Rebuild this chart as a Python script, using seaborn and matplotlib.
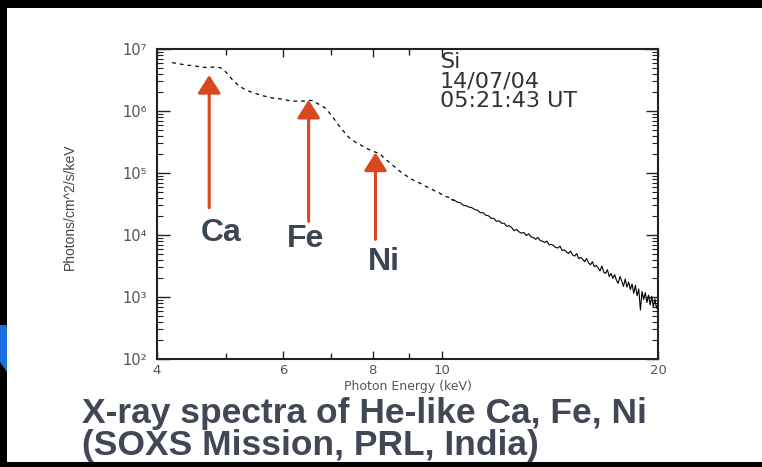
import matplotlib
matplotlib.use("Agg")
import matplotlib.pyplot as plt
from matplotlib import font_manager
from matplotlib.patches import Rectangle, Polygon
from matplotlib.ticker import FixedLocator, NullFormatter
import pandas as pd
import seaborn as sns

# Solar X-ray spectrum (SOXS Si detector), photon energy in keV
energy_kev = [
    4.2, 4.3, 4.4, 4.5, 4.6, 4.7, 4.8, 4.9, 5.0, 5.1,
    5.2, 5.3, 5.4, 5.5, 5.6, 5.7, 5.8, 5.9, 6.0, 6.1,
    6.2, 6.3, 6.4, 6.5, 6.6, 6.7, 6.8, 6.9, 7.0, 7.1,
    7.2, 7.3, 7.4, 7.5, 7.6, 7.7, 7.8, 7.9, 8.0, 8.1,
    8.2, 8.3, 8.4, 8.5, 8.6, 8.7, 8.8, 8.9, 9.0, 9.1,
    9.2, 9.3, 9.4, 9.5, 9.6, 9.7, 9.8, 9.9, 10.0, 10.1,
    10.2, 10.3, 10.4, 10.5, 10.6, 10.7, 10.8, 10.9, 11.0, 11.1,
    11.2, 11.3, 11.4, 11.5, 11.6, 11.7, 11.8, 11.9, 12.0, 12.1,
    12.2, 12.3, 12.4, 12.5, 12.6, 12.7, 12.8, 12.9, 13.0, 13.1,
    13.2, 13.3, 13.4, 13.5, 13.6, 13.7, 13.8, 13.9, 14.0, 14.1,
    14.2, 14.3, 14.4, 14.5, 14.6, 14.7, 14.8, 14.9, 15.0, 15.1,
    15.2, 15.3, 15.4, 15.5, 15.6, 15.7, 15.8, 15.9, 16.0, 16.1,
    16.2, 16.3, 16.4, 16.5, 16.6, 16.7, 16.8, 16.9, 17.0, 17.1,
    17.2, 17.3, 17.4, 17.5, 17.6, 17.7, 17.8, 17.9, 18.0, 18.1,
    18.2, 18.3, 18.4, 18.5, 18.6, 18.7, 18.8, 18.9, 19.0, 19.1,
    19.2, 19.3, 19.4, 19.5, 19.6, 19.7, 19.8, 19.9, 20.0,
]

# log10 of the photon flux (photons/cm^2/s/keV)
log_flux = [
    6.78, 6.76, 6.74, 6.73, 6.71, 6.70, 6.71, 6.70, 6.62, 6.50,
    6.41, 6.35, 6.31, 6.28, 6.25, 6.23, 6.21, 6.20, 6.19, 6.17,
    6.16, 6.16, 6.16, 6.17, 6.17, 6.12, 6.08, 6.03, 5.93, 5.84,
    5.74, 5.66, 5.58, 5.53, 5.48, 5.45, 5.41, 5.38, 5.35, 5.33,
    5.30, 5.24, 5.19, 5.14, 5.09, 5.04, 5.00, 4.96, 4.92, 4.89,
    4.86, 4.84, 4.81, 4.78, 4.76, 4.73, 4.70, 4.68, 4.65, 4.62,
    4.61, 4.57, 4.56, 4.53, 4.52, 4.48, 4.47, 4.45, 4.44, 4.41,
    4.40, 4.36, 4.36, 4.32, 4.31, 4.27, 4.27, 4.22, 4.23, 4.19,
    4.19, 4.14, 4.15, 4.12, 4.07, 4.09, 4.05, 4.03, 4.04, 3.99,
    4.02, 3.97, 3.96, 3.93, 3.96, 3.91, 3.90, 3.88, 3.90, 3.84,
    3.85, 3.83, 3.80, 3.79, 3.82, 3.75, 3.76, 3.73, 3.70, 3.74,
    3.68, 3.66, 3.70, 3.62, 3.64, 3.61, 3.57, 3.62, 3.55, 3.52,
    3.57, 3.49, 3.51, 3.47, 3.42, 3.50, 3.40, 3.38, 3.44, 3.33,
    3.38, 3.30, 3.36, 3.27, 3.22, 3.33, 3.26, 3.17, 3.29, 3.16,
    3.24, 3.12, 3.21, 3.06, 3.19, 3.02, 3.13, 2.79, 3.09, 2.96,
    3.07, 2.91, 3.03, 2.87, 3.01, 2.84, 2.97, 2.82, 2.89,
]

# He-like emission line complexes marked with arrows
line_names = ["Ca", "Fe", "Ni"]
line_energy_kev = [4.73, 6.51, 8.07]
arrow_tip_log = [6.58, 6.18, 5.33]
arrow_tail_log = [4.44, 4.22, 3.93]
label_energy_kev = [4.91, 6.45, 8.30]
label_log = [4.03, 3.93, 3.56]

x_ticks = [4, 6, 8, 10, 20]
x_tick_labels = ["4", "6", "8", "10", "20"]
x_minor_ticks = [5, 7, 9]
y_ticks = [1e2, 1e3, 1e4, 1e5, 1e6, 1e7]
y_tick_labels = ["10²", "10³", "10⁴", "10⁵", "10⁶", "10⁷"]

stamp_lines = ["Si", "14/07/04", "05:21:43 UT"]
caption_lines = ["X-ray spectra of He-like Ca, Fe, Ni", "(SOXS Mission, PRL, India)"]

df = pd.DataFrame({"energy": energy_kev, "flux": [10 ** v for v in log_flux]})

sns.set_style("ticks")


def pick_font(*names):
    available = {f.name for f in font_manager.fontManager.ttflist}
    for name in names:
        if name in available:
            return name
    return "DejaVu Sans"


thin_font = "DejaVu Sans"
narrow_font = pick_font("Liberation Sans Narrow", "DejaVu Sans Condensed", "Liberation Sans")
bold_font = pick_font("Liberation Sans", "Arimo", "DejaVu Sans")
plt.rcParams["font.family"] = [thin_font]

W, H = 762, 467
fig = plt.figure(figsize=(W / 100, H / 100), dpi=100)
fig.patch.set_facecolor("black")

# white slide panel with a bit of blue at the left edge
fig.add_artist(Rectangle((7 / W, 5 / H), 1 - 7 / W, (462 - 8) / H,
                         transform=fig.transFigure, facecolor="white",
                         edgecolor="none", zorder=0))
fig.add_artist(Polygon([(0, 1 - 325 / H), (7 / W, 1 - 325 / H),
                        (7 / W, 1 - 372 / H), (0, 1 - 362 / H)],
                       closed=True, transform=fig.transFigure,
                       facecolor="#1c6fe0", edgecolor="none", zorder=0))

ax_left, ax_right, ax_top, ax_bottom = 157, 658, 49, 359
ax = fig.add_axes([ax_left / W, 1 - ax_bottom / H,
                   (ax_right - ax_left) / W, (ax_bottom - ax_top) / H])
ax.set_facecolor("white")
ax.set_xscale("log")
ax.set_yscale("log")

dense_from_kev = 10.3
low = df[df["energy"] <= dense_from_kev + 0.15]
high = df[df["energy"] >= dense_from_kev]
sns.lineplot(data=low, x="energy", y="flux", ax=ax, color="black",
             linewidth=0.9, linestyle=(0, (3.0, 3.2)), sort=False)
sns.lineplot(data=high, x="energy", y="flux", ax=ax, color="black",
             linewidth=0.8, sort=False)

ax.set_xlim(4, 20)
ax.set_ylim(1e2, 1e7)

ax.xaxis.set_major_locator(FixedLocator(x_ticks))
ax.xaxis.set_minor_locator(FixedLocator(x_minor_ticks))
ax.set_xticklabels(x_tick_labels)
ax.xaxis.set_minor_formatter(NullFormatter())
ax.set_yticks(y_ticks)
ax.set_yticklabels(y_tick_labels)

tick_grey = "#555555"
ax.tick_params(axis="both", which="both", direction="in", colors="#222222",
               labelcolor=tick_grey, top=True, right=True)
ax.tick_params(axis="y", which="major", length=9, width=1.0, labelsize=10.5, pad=7)
ax.tick_params(axis="y", which="minor", length=4.5, width=0.8)
ax.tick_params(axis="x", which="major", length=6, width=1.0, labelsize=9.5, pad=3.5)
ax.tick_params(axis="x", which="minor", length=4, width=1.0)

for spine in ax.spines.values():
    spine.set_visible(True)
    spine.set_linewidth(1.5)
    spine.set_color("#222222")

ax.set_xlabel("Photon Energy (keV)", fontsize=9, color=tick_grey)
ax.xaxis.set_label_coords(0.5, -0.068)
ax.set_ylabel("Photons/cm^2/s/keV", fontsize=10, color="#444444",
              fontfamily=narrow_font)
ax.yaxis.set_label_coords(-0.16, 0.49)

# observation stamp
ax.text((440 - ax_left) / (ax_right - ax_left), 1 - (52 - ax_top) / (ax_bottom - ax_top),
        "\n".join(stamp_lines), transform=ax.transAxes, ha="left", va="top",
        fontsize=16, linespacing=0.97, color="#333333")

# arrows and element labels
arrow_color = "#d9481f"
for name, e, tip, tail, le, ll in zip(line_names, line_energy_kev, arrow_tip_log,
                                       arrow_tail_log, label_energy_kev, label_log):
    ax.annotate("", xy=(e, 10 ** tip), xytext=(e, 10 ** tail),
                arrowprops=dict(arrowstyle="-|>,head_length=0.55,head_width=0.35",
                                mutation_scale=20, lw=2.2, color=arrow_color,
                                shrinkA=0, shrinkB=0))
    ax.text(le, 10 ** ll, name, ha="center", va="center", fontsize=23,
            fontweight="bold", fontfamily=bold_font, color="#3d4452")

# caption
caption_baselines = [423, 455]
for text, base in zip(caption_lines, caption_baselines):
    fig.text(82 / W, 1 - base / H, text, ha="left", va="baseline",
             fontsize=25.5, fontweight="bold", fontfamily=bold_font,
             color="#414755")

fig.savefig("out.png", dpi=100, facecolor="black")
